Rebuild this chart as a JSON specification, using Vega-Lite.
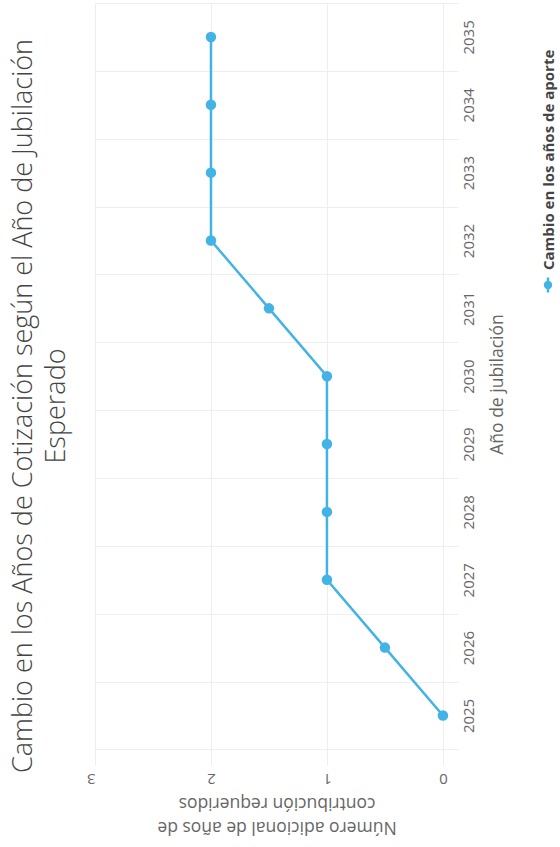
{
  "$schema": "https://vega.github.io/schema/vega-lite/v6.json",
  "width": 363,
  "height": 762,
  "autosize": {"type": "none"},
  "padding": {"left": 95, "top": 3, "right": 102, "bottom": 82},
  "background": "white",
  "config": {"view": {"stroke": null}, "font": "Open Sans"},
  "title": {
    "text": ["Cambio en los Años de Cotización según el Año de Jubilación", "Esperado"],
    "orient": "left",
    "anchor": "middle",
    "font": "Open Sans",
    "fontSize": 27,
    "fontWeight": 300,
    "color": "#444",
    "lineHeight": 33,
    "offset": 15,
    "dx": -22
  },
  "data": {
    "values": [
      {"anio": 2025, "cambio": 0},
      {"anio": 2026, "cambio": 0.5},
      {"anio": 2027, "cambio": 1},
      {"anio": 2028, "cambio": 1},
      {"anio": 2029, "cambio": 1},
      {"anio": 2030, "cambio": 1},
      {"anio": 2031, "cambio": 1.5},
      {"anio": 2032, "cambio": 2},
      {"anio": 2033, "cambio": 2},
      {"anio": 2034, "cambio": 2},
      {"anio": 2035, "cambio": 2}
    ]
  },
  "encoding": {
    "x": {
      "field": "cambio",
      "type": "quantitative",
      "scale": {"domain": [-0.13, 3], "reverse": true, "nice": false, "zero": false},
      "axis": {
        "orient": "bottom",
        "values": [0, 1, 2, 3],
        "labelAngle": 180,
        "labelOverlap": false,
        "grid": true,
        "gridColor": "#eeeeee",
        "gridWidth": 1,
        "ticks": false,
        "domain": false,
        "labelFontSize": 15,
        "labelColor": "#666",
        "labelPadding": 5,
        "title": ["Número adicional de años de", "contribución requeridos"],
        "titleAngle": 180,
        "titleFontSize": 17.5,
        "titleFontWeight": "normal",
        "titleColor": "#666",
        "titleLineHeight": 24,
        "titlePadding": 50
      }
    },
    "color": {
      "datum": "Cambio en los años de aporte",
      "type": "nominal",
      "scale": {"range": ["#43b3e6"]},
      "legend": {
        "title": null,
        "orient": "none",
        "legendX": 444,
        "legendY": 273,
        "labelFontSize": 15,
        "labelFontWeight": "bold",
        "labelColor": "#444",
        "labelFont": "Open Sans",
        "labelLimit": 300,
        "symbolType": "M0,-1V1M0.4,0A0.4,0.4 0 1,1 -0.4,0A0.4,0.4 0 1,1 0.4,0",
        "symbolSize": 220,
        "symbolStrokeWidth": 2.5,
        "symbolFillColor": "#43b3e6",
        "symbolStrokeColor": "#43b3e6",
        "encoding": {"labels": {"angle": {"value": -90}, "dx": {"value": 15}, "dy": {"value": -12}}}
      }
    }
  },
  "layer": [
    {
      "mark": {"type": "line", "strokeWidth": 2.5},
      "encoding": {
        "order": {"field": "anio", "type": "quantitative"},
        "y": {
          "field": "anio",
          "type": "quantitative",
          "scale": {"domain": [2024.27, 2035.5], "nice": false, "zero": false},
          "axis": {
            "orient": "left",
            "values": [2024.5, 2025.5, 2026.5, 2027.5, 2028.5, 2029.5, 2030.5, 2031.5, 2032.5, 2033.5, 2034.5, 2035.5],
            "grid": true,
            "gridColor": "#eeeeee",
            "gridWidth": 1,
            "labels": false,
            "ticks": false,
            "domain": false,
            "title": null
          }
        }
      }
    },
    {
      "mark": {"type": "point", "filled": true, "size": 110, "opacity": 1},
      "encoding": {
        "y": {
          "field": "anio",
          "type": "quantitative",
          "axis": {
            "orient": "right",
            "values": [2025, 2026, 2027, 2028, 2029, 2030, 2031, 2032, 2033, 2034, 2035],
            "format": "d",
            "labelAngle": -90,
            "labelOverlap": false,
            "grid": false,
            "ticks": false,
            "domain": false,
            "labelFontSize": 15,
            "labelColor": "#666",
            "labelPadding": 3,
            "title": "Año de jubilación",
            "titleAngle": -90,
            "titleFontSize": 17.5,
            "titleFontWeight": "normal",
            "titleColor": "#666",
            "titlePadding": 30
          }
        }
      }
    }
  ],
  "resolve": {"axis": {"y": "independent"}}
}
